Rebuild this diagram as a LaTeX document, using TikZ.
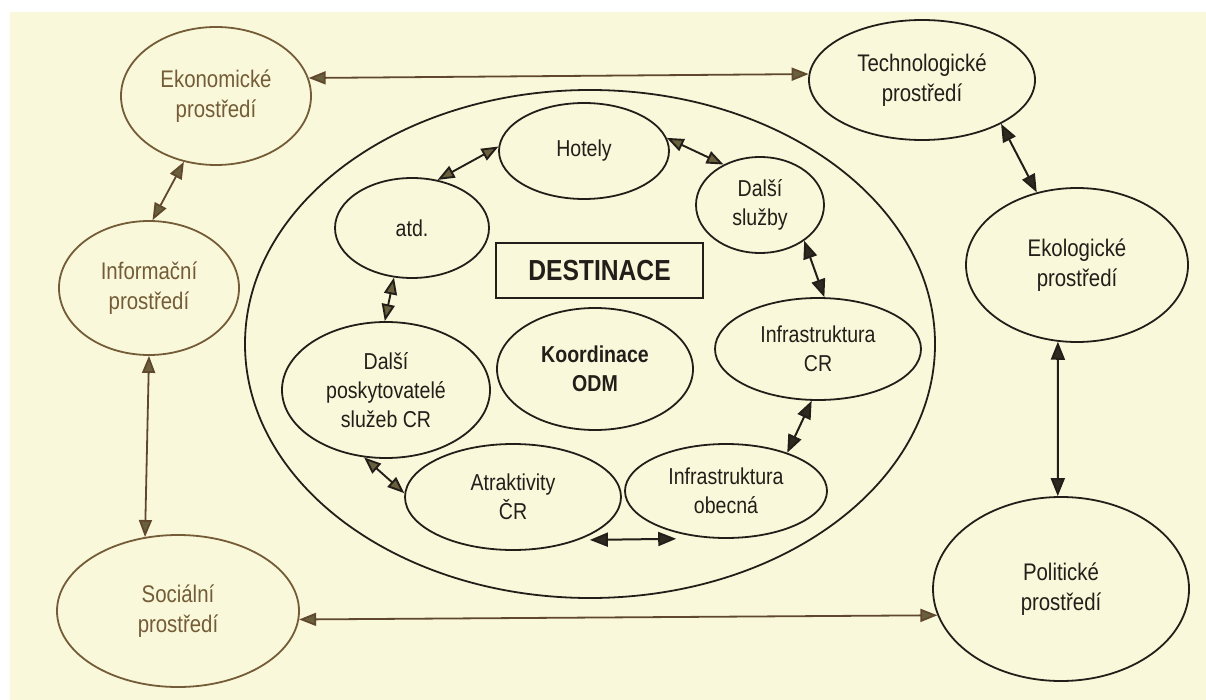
\documentclass[tikz,border=0pt]{standalone}
\usepackage{fontspec}
\setmainfont{Liberation Sans}[FakeStretch=0.85]
\usetikzlibrary{shapes.geometric,arrows.meta,calc}
\definecolor{paper}{RGB}{250,248,218}
\definecolor{inkA}{RGB}{115,92,55}
\definecolor{inkB}{RGB}{35,30,25}
\definecolor{linkA}{RGB}{95,72,45}
\definecolor{headA}{RGB}{105,96,62}
\definecolor{headB}{RGB}{45,43,32}
\begin{document}
\begin{tikzpicture}[x=1pt,y=-1pt,
  ell/.style={ellipse,draw=inkB,line width=1.8pt,inner sep=0pt,align=center,text=inkB,font=\fontsize{23}{29}\selectfont},
  outL/.style={ell,draw=inkA,text=inkA,font=\fontsize{24}{30}\selectfont},
  outR/.style={ell,font=\fontsize{24}{30}\selectfont},
  dbl/.style={{Triangle[length=18pt,width=14pt,fill=headB]}-{Triangle[length=18pt,width=14pt,fill=headB]},line width=2pt,draw=inkB},
  dblL/.style={{Triangle[length=17pt,width=13pt,fill=headA]}-{Triangle[length=17pt,width=13pt,fill=headA]},line width=1.8pt,draw=linkA},
  dblM/.style={{Triangle[length=17pt,width=13pt,fill=headA]}-{Triangle[length=17pt,width=13pt,fill=headA]},line width=1.9pt,draw=inkB},
]
\fill[white] (0,0) rectangle (1206,700);
\fill[paper] (10,12) rectangle (1206,700);
\useasboundingbox (0,0) rectangle (1206,700);

% outer environment
\node[outL,minimum width=190pt,minimum height=138pt] (ekon) at (216,96) {Ekonomické\\prostředí};
\node[outR,minimum width=226pt,minimum height=120pt] (tech) at (922,80) {Technologické\\prostředí};
\node[outL,minimum width=180pt,minimum height=134pt] (inf) at (149,288) {Informační\\prostředí};
\node[outL,minimum width=242pt,minimum height=152pt] (soc) at (178,611) {Sociální\\prostředí};
\node[outR,minimum width=222pt,minimum height=154pt] (eko) at (1077,265) {Ekologické\\prostředí};
\node[outR,minimum width=256pt,minimum height=184pt] (pol) at (1061,589) {Politické\\prostředí};

% destination
\node[ell,minimum width=690pt,minimum height=508pt] (dest) at (590,344) {};
\node[ell,minimum width=170pt,minimum height=96pt] (hot) at (584,151) {Hotely};
\node[ell,minimum width=154pt,minimum height=100pt] (atd) at (412,228) {atd.};
\node[ell,minimum width=128pt,minimum height=96pt] (dsl) at (760,205) {Další\\služby};
\node[ell,minimum width=206pt,minimum height=102pt] (icr) at (818,349) {Infrastruktura\\CR};
\node[ell,minimum width=208pt,minimum height=136pt] (dpos) at (386,390) {Další\\poskytovatelé\\služeb CR};
\node[ell,minimum width=196pt,minimum height=122pt,font=\bfseries\fontsize{23}{29}\selectfont] (koord) at (595,369) {Koordinace\\ODM};
\node[ell,minimum width=216pt,minimum height=106pt] (atr) at (513,497) {Atraktivity\\ČR};
\node[ell,minimum width=202pt,minimum height=94pt] (iob) at (726,491) {Infrastruktura\\obecná};
\node[draw=inkB,line width=1.8pt,minimum width=207pt,minimum height=55pt,inner sep=0pt,text=inkB,font=\bfseries\fontsize{29}{29}\selectfont] (box) at (599.5,270.5) {DESTINACE};

% connectors
\draw[dblL] (ekon.11) -- (tech.177);
\draw[dblL] (ekon.-116) -- (inf.87);
\draw[dblL] (inf.-90) -- (soc.114);
\draw[dblL] (soc.-4) -- (pol.192);
\draw[dbl] (tech.-29) -- (eko.119);
\draw[dbl] (eko.-104) -- (pol.92);
\draw[dblM] (hot.177) -- (atd.62);
\draw[dblM] (hot.9) -- (dsl.132);
\draw[dbl] (dsl.-39) -- (icr.83);
\draw[dblM] (atd.-110) -- (dpos.91);
\draw[dblM] (dpos.-108) -- (atr.178);
\draw[dbl] (icr.-97) -- (iob.32);
\draw[dbl] ([xshift=6pt,yshift=-2pt]atr.-30) -- ([yshift=-6pt]iob.-140);
\end{tikzpicture}
\end{document}
